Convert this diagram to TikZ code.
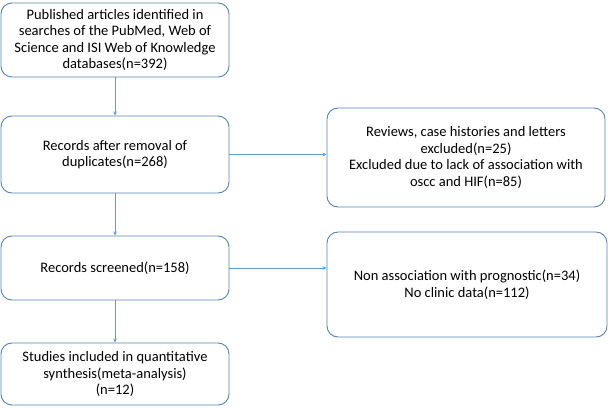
\documentclass[tikz,border=0pt]{standalone}
\usepackage{fontspec}
\setmainfont{Carlito}
\usetikzlibrary{arrows.meta}
\definecolor{bord}{RGB}{84,130,180}
\definecolor{arr}{RGB}{91,155,213}
\tikzset{
  box/.style={draw=bord, line width=0.9pt, rounded corners=11pt, align=center, inner sep=0pt, font=\fontsize{14.5}{16.5}\selectfont},
  conn/.style={draw=arr, line width=0.8pt, -{Stealth[length=4pt,width=3.5pt]}}
}
\begin{document}
\begin{tikzpicture}[x=1pt,y=1pt]
\useasboundingbox (0,0) rectangle (609,407);
\node[box, minimum width=228pt, minimum height=74pt] (b1) at (115,367) {Published articles identified in\\searches of the PubMed, Web of\\Science and ISI Web of Knowledge\\databases(n=392)};
\node[box, minimum width=228pt, minimum height=77pt] (b2) at (115,252.5) {Records after removal of\\duplicates(n=268)};
\node[box, minimum width=228pt, minimum height=64pt] (b3) at (115,139) {Records screened(n=158)};
\node[box, minimum width=228pt, minimum height=62pt] (b4) at (115,33) {Studies included in quantitative\\synthesis(meta-analysis)\\(n=12)};
\node[box, minimum width=278pt, minimum height=99pt] (r1) at (466,249.5) {Reviews, case histories and letters\\excluded(n=25)\\Excluded due to lack of association with\\oscc and HIF(n=85)};
\node[box, minimum width=280pt, minimum height=105pt] (r2) at (467,122.5) {Non association with prognostic(n=34)\\No clinic data(n=112)};
\draw[conn] (b1) -- (b2);
\draw[conn] (b2) -- (b3);
\draw[conn] (b3) -- (b4);
\draw[conn] (b2.east) -- (b2.east -| r1.west);
\draw[conn] (b3.east) -- (b3.east -| r2.west);
\end{tikzpicture}
\end{document}
